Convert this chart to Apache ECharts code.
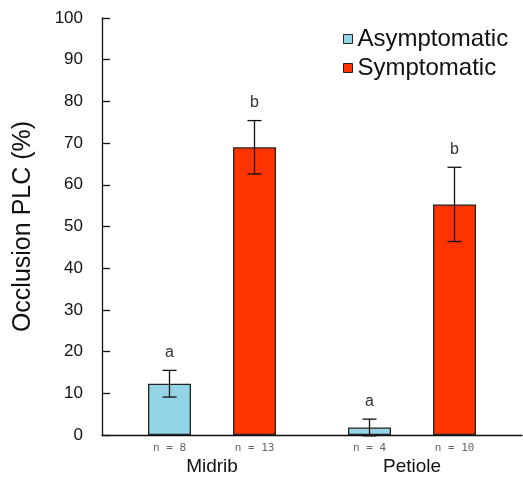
<!DOCTYPE html>
<html><head><meta charset="utf-8">
<script src="https://cdn.jsdelivr.net/npm/echarts@6/dist/echarts.min.js"></script>
<style>html,body{margin:0;padding:0;background:#fff}#c{width:523px;height:477px}</style>
</head><body><div id="c"></div>
<script>
var categories = ['Midrib', 'Petiole'];
var seriesNames = ['Asymptomatic', 'Symptomatic'];
var asymMean = [12.3, 1.8];
var asymErr = [3.2, 2.0];
var asymLetter = ['a', 'a'];
var asymN = [8, 4];
var symMean = [69.0, 55.3];
var symErr = [6.4, 8.9];
var symLetter = ['b', 'b'];
var symN = [13, 10];
var yTicks = [0, 10, 20, 30, 40, 50, 60, 70, 80, 90, 100];

var colors = ['#93d5e6', '#ff3300'];
var FONT = 'Liberation Sans, Arial, sans-serif';
var BAR_W = 43, OFFSET = 42.5;

function errData(means, errs, letters, s) {
  return means.map(function (m, i) { return [i, m, errs[i], s, letters[i]]; });
}

function renderErr(params, api) {
  var ci = api.value(0), m = api.value(1), e = api.value(2), s = api.value(3);
  var letter = (s === 0 ? asymLetter : symLetter)[ci];
  var dx = s === 0 ? -OFFSET : OFFSET;
  var top = api.coord([ci, m + e]);
  var bot = api.coord([ci, m - e]);
  var x = top[0] + dx;
  var cap = 7;
  var st = { stroke: '#111', lineWidth: 1.3 };
  return {
    type: 'group',
    children: [
      { type: 'line', shape: { x1: x, y1: top[1], x2: x, y2: bot[1] }, style: st },
      { type: 'line', shape: { x1: x - cap, y1: top[1], x2: x + cap, y2: top[1] }, style: st },
      { type: 'line', shape: { x1: x - cap, y1: bot[1], x2: x + cap, y2: bot[1] }, style: st },
      { type: 'text', x: x, y: top[1] - 10, style: { text: letter, fill: '#333', font: '16px ' + FONT, align: 'center', verticalAlign: 'bottom' } }
    ]
  };
}

var chart = echarts.init(document.getElementById('c'), null, { renderer: 'canvas' });
chart.setOption({
  animation: false,
  color: colors,
  legend: {
    data: seriesNames,
    orient: 'vertical',
    left: 338, top: 22,
    icon: 'rect', itemWidth: 9, itemHeight: 9, itemGap: 5, itemStyle: { borderColor: '#222', borderWidth: 1 },
    textStyle: { fontSize: 24, color: '#111', fontFamily: FONT }
  },
  grid: [
    { left: 102, right: 1, top: 18, bottom: 42 },
    { left: 112, right: 11, top: 18, bottom: 42 }
  ],
  xAxis: [
    { type: 'category', gridIndex: 0, data: categories,
      axisLine: { lineStyle: { color: '#111', width: 1.3 } }, axisTick: { show: false }, axisLabel: { show: false } },
    { type: 'category', gridIndex: 1, data: categories,
      axisLine: { show: false }, axisTick: { show: false },
      axisLabel: { fontSize: 19, color: '#111', fontFamily: FONT, margin: 22 } }
  ],
  yAxis: [
    { type: 'value', gridIndex: 0, min: 0, max: 100, interval: 10,
      name: 'Occlusion PLC (%)', nameLocation: 'middle', nameGap: 66,
      nameTextStyle: { fontSize: 25, color: '#111', fontFamily: FONT },
      axisLine: { show: true, lineStyle: { color: '#111', width: 1.3 } },
      axisTick: { show: true, inside: true, length: 8, lineStyle: { color: '#111', width: 1.3 } },
      axisLabel: { fontSize: 17, color: '#111', fontFamily: FONT, margin: 19 },
      splitLine: { show: false } },
    { type: 'value', gridIndex: 1, min: 0, max: 100, interval: 10, show: false, splitLine: { show: false } }
  ],
  series: [
    { name: seriesNames[0], type: 'bar', xAxisIndex: 1, yAxisIndex: 1, data: asymMean,
      barWidth: BAR_W, barGap: '97.7%',
      itemStyle: { color: colors[0], borderColor: '#222', borderWidth: 1.3 },
      label: { show: true, position: 'insideBottom', offset: [0, 24],
        formatter: function (p) { return 'n = ' + asymN[p.dataIndex]; },
        fontSize: 11, color: '#666', fontFamily: 'DejaVu Sans Mono, monospace' } },
    { name: seriesNames[1], type: 'bar', xAxisIndex: 1, yAxisIndex: 1, data: symMean,
      barWidth: BAR_W,
      itemStyle: { color: colors[1], borderColor: '#222', borderWidth: 1.3 },
      label: { show: true, position: 'insideBottom', offset: [0, 24],
        formatter: function (p) { return 'n = ' + symN[p.dataIndex]; },
        fontSize: 11, color: '#666', fontFamily: 'DejaVu Sans Mono, monospace' } },
    { type: 'custom', xAxisIndex: 1, yAxisIndex: 1, renderItem: renderErr,
      data: errData(asymMean, asymErr, asymLetter, 0), z: 10 },
    { type: 'custom', xAxisIndex: 1, yAxisIndex: 1, renderItem: renderErr,
      data: errData(symMean, symErr, symLetter, 1), z: 10 }
  ]
});
</script></body></html>
